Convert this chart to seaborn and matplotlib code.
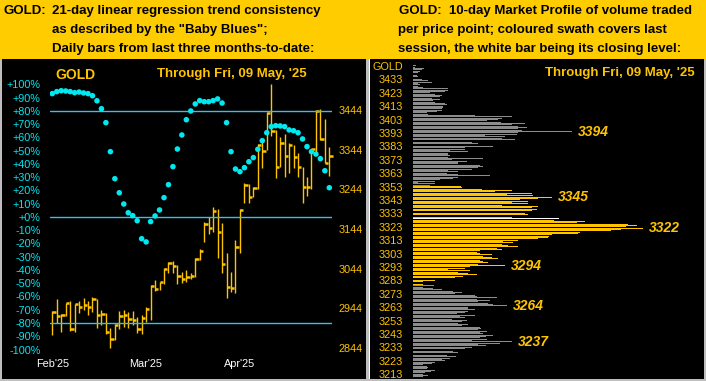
import numpy as np
import matplotlib
matplotlib.use("Agg")
import matplotlib.pyplot as plt
from matplotlib.patches import Rectangle
import seaborn as sns

W, H = 706, 381

HEADER_YELLOW = "#FFCC00"
GOLD = "#FFC400"
CYAN = "#00E8F0"
LINE_BLUE = "#38C0E8"
GREY_BAR = "#8C8C8C"

# ---------------- left chart: daily bars + "Baby Blues" ----------------
highs = [2937.6, 2967.8, 2930.0, 2956.9, 2962.8, 2955.2, 2962.8, 2969.5, 2962.8, 2972.0,
         2967.8, 2940.1, 2933.4, 2895.6, 2904.0, 2937.6, 2940.1, 2935.9, 2937.6, 2923.3,
         2927.5, 2947.0, 3003.0, 3015.6, 3009.7, 3045.0, 3061.8, 3063.5, 3053.4, 3034.9,
         3040.8, 3034.1, 3070.2, 3092.9, 3162.6, 3173.5, 3198.7, 3193.7, 3158.4, 3082.8,
         3036.6, 3116.4, 3193.8, 3260.9, 3257.6, 3250.9, 3358.3, 3368.4, 3439.8, 3509.5,
         3393.6, 3375.1, 3383.5, 3361.7, 3355.8, 3334.8, 3299.6, 3274.3, 3344.9, 3444.0,
         3445.7, 3420.5, 3350.0]
lows = [2877.1, 2906.5, 2885.5, 2925.0, 2888.0, 2885.5, 2933.4, 2940.1, 2927.5, 2935.9,
        2895.6, 2902.3, 2878.8, 2843.5, 2865.4, 2891.4, 2898.1, 2895.6, 2902.3, 2883.0,
        2878.8, 2910.7, 2915.0, 2988.7, 2990.0, 3006.4, 3032.4, 3032.4, 3004.7, 3007.2,
        3011.4, 3017.3, 3024.0, 3066.0, 3112.2, 3131.5, 3135.7, 3071.9, 3032.4, 2969.4,
        2986.2, 2982.0, 3084.5, 3208.8, 3208.8, 3225.6, 3244.2, 3297.0, 3343.2, 3378.5,
        3271.8, 3301.2, 3274.3, 3284.4, 3297.0, 3276.0, 3208.8, 3227.3, 3244.2, 3334.8,
        3368.4, 3311.3, 3278.6]
closes = [2935.9, 2925.0, 2927.5, 2956.9, 2892.2, 2954.4, 2948.5, 2953.5, 2948.5, 2968.7,
          2927.5, 2930.0, 2885.5, 2866.2, 2903.1, 2925.0, 2927.5, 2918.3, 2914.9, 2892.2,
          2920.8, 2942.7, 3000.5, 2993.0, 3009.7, 3042.5, 3057.6, 3051.7, 3026.5, 3017.3,
          3024.0, 3026.5, 3068.5, 3089.5, 3156.7, 3147.5, 3189.5, 3137.4, 3055.1, 2998.8,
          2996.3, 3099.6, 3192.1, 3255.0, 3225.6, 3246.7, 3355.8, 3341.6, 3435.6, 3391.9,
          3299.6, 3361.7, 3328.1, 3355.8, 3326.4, 3299.6, 3249.2, 3249.2, 3344.9, 3442.3,
          3371.0, 3311.3, 3328.1]
baby_blues = [93.1, 94.6, 95.3, 95.1, 94.6, 93.8, 94.3, 93.6, 93.1, 91.5,
              87.7, 81.7, 71.2, 49.3, 28.9, 18.3, 9.8, 3.2, 1.0, -2.8,
              -16.4, -18.8, -3.5, 0.8, 5.3, 14.6, 24.4, 38.0, 51.3, 61.9,
              73.4, 80.0, 85.3, 87.8, 87.0, 87.0, 87.8, 89.1, 86.0, 71.2,
              49.3, 36.2, 34.2, 37.2, 41.7, 44.8, 51.1, 57.6, 63.6, 68.2,
              68.9, 68.7, 68.2, 65.7, 65.1, 63.6, 58.9, 53.1, 49.3, 47.5,
              44.0, 34.9, 22.1]
month_pos = [0, 21, 42]
month_labels = ["Feb'25", "Mar'25", "Apr'25"]
pct_ticks = list(range(-100, 101, 10))
price_ticks = [2844, 2944, 3044, 3144, 3244, 3344, 3444]
ref_levels = [80, 0, -80]

# ---------------- right chart: 10-day market profile ----------------
profile_top = 3443
profile_volume = [
    3, 2, 11, 9, 7, 5, 5, 4, 5, 7,            # 3443-3434
    9, 15, 19, 5, 7, 5, 10, 35, 35, 32,       # 3433-3424
    17, 22, 29, 27, 19, 27, 20, 22, 32, 34,   # 3423-3414
    30, 30, 29, 29, 24, 14, 15, 62, 99, 89,   # 3413-3404
    85, 74, 88, 112, 99, 105, 114, 105, 109, 159,  # 3403-3394
    105, 104, 72, 92, 89, 102, 89, 59, 65, 70,     # 3393-3384
    80, 52, 52, 37, 55, 35, 35, 37, 35, 70,   # 3383-3374
    39, 54, 45, 45, 67, 70, 65, 59, 35, 45,   # 3373-3364
    34, 45, 77, 45, 40, 27, 22, 5, 22, 17,    # 3363-3354
    48, 49, 69, 99, 82, 119, 94, 120, 139, 125,     # 3353-3344
    107, 115, 99, 115, 89, 125, 119, 124, 119, 104,  # 3343-3334
    112, 115, 109, 99, 146, 141, 172, 164, 215, 224,  # 3333-3324
    213, 230, 208, 198, 167, 165, 139, 136, 135, 125,  # 3323-3314
    105, 90, 100, 89, 95, 105, 84, 89, 67, 64,      # 3313-3304
    67, 79, 70, 79, 85, 67, 70, 75, 65, 92,   # 3303-3294
    57, 52, 35, 57, 45, 55, 64, 50, 42, 34,   # 3293-3284
    22, 10, 12, 10, 21, 10, 20, 29, 40, 49,   # 3283-3274
    42, 62, 64, 84, 64, 77, 65, 75, 80, 94,   # 3273-3264
    55, 55, 62, 55, 52, 44, 62, 47, 52, 39,   # 3263-3254
    54, 49, 45, 55, 49, 67, 68, 65, 74, 67,   # 3253-3244
    70, 80, 73, 67, 74, 59, 99, 87, 65, 73,   # 3243-3234
    59, 52, 47, 40, 45, 37, 34, 43, 37, 29,   # 3233-3224
    32, 22, 19, 10, 14, 15, 14, 22, 18, 12,   # 3223-3214
    10, 15, 10, 6,                            # 3213-3210
]
session_low, session_high = 3280, 3353
last_close = 3329
peak_labels = [3394, 3345, 3322, 3294, 3264, 3237]
profile_ticks = [3443] + list(range(3433, 3212, -10))
profile_tick_labels = ["GOLD"] + [str(v) for v in range(3433, 3212, -10)]


def box(x0, y0, x1, y1):
    return [x0 / W, 1 - y1 / H, (x1 - x0) / W, (y1 - y0) / H]


def rect(fig, x0, y0, x1, y1, color):
    fig.add_artist(Rectangle((x0 / W, 1 - y1 / H), (x1 - x0) / W, (y1 - y0) / H,
                             transform=fig.transFigure, color=color, zorder=0, lw=0))


def ftext(fig, x, y, s, **kw):
    fig.text(x / W, 1 - y / H, s, **kw)


sns.set_style("dark")
plt.rcParams["font.family"] = ["Liberation Sans", "DejaVu Sans"]

fig = plt.figure(figsize=(W / 100, H / 100), dpi=100, facecolor="#BEBEBE")

# backgrounds
rect(fig, 0, 0, W, 59, HEADER_YELLOW)
rect(fig, 2, 59, 366, 379, "black")
rect(fig, 369, 59, 704, 379, "black")
rect(fig, 369, 59, 370.5, 379, "white")

# header text
hdr = dict(fontsize=9.5, fontweight="bold", color="black", va="center", ha="left")
ftext(fig, 4, 11, "GOLD:", **hdr)
ftext(fig, 52, 11, "21-day linear regression trend consistency", **hdr)
ftext(fig, 52, 30, 'as described by the "Baby Blues";', **hdr)
ftext(fig, 52, 49, "Daily bars from last three months-to-date:", **hdr)
ftext(fig, 399, 11, "GOLD:  10-day Market Profile of volume traded", **hdr)
ftext(fig, 398, 30, "per price point; coloured swath covers last", **hdr)
ftext(fig, 398, 49, "session, the white bar being its closing level:", **hdr)

ftext(fig, 55, 75, "GOLD", fontsize=10, fontweight="bold", color=GOLD, va="center")
ftext(fig, 157, 74, "Through Fri, 09 May, '25", fontsize=9.5, fontweight="bold",
      color=GOLD, va="center")
ftext(fig, 545, 73, "Through Fri, 09 May, '25", fontsize=9.5, fontweight="bold",
      color=GOLD, va="center")

# ---------------- left chart ----------------
ax = fig.add_axes(box(50, 65, 332, 355))
ax2 = ax.twinx()
idx = np.arange(len(closes))

ax2.vlines(idx, lows, highs, color=GOLD, lw=1.0, clip_on=False)
ax2.hlines(closes, idx, idx + 0.75, color=GOLD, lw=1.8, clip_on=False)
ax2.set_ylim(2826.8, 3557.4)
ax2.set_yticks(price_ticks)
ax2.set_yticklabels([str(p) for p in price_ticks])
ax2.tick_params(axis="y", length=0, pad=4.8, labelcolor=GOLD, labelsize=7.8)

for lvl in ref_levels:
    ax.axhline(lvl, color=LINE_BLUE, lw=1.0, zorder=1)
sns.scatterplot(x=idx, y=baby_blues, ax=ax, color=CYAN, s=16, edgecolor="none",
                marker="o", zorder=3, legend=False)
ax.set_ylim(-104.15, 114.7)
ax.set_xlim(-0.51, 62.6)
ax.set_yticks(pct_ticks)
ax.set_yticklabels([f"{v:+d}%" for v in pct_ticks])
ax.set_xticks(month_pos)
ax.set_xticklabels(month_labels)
ax.tick_params(axis="y", length=0, pad=6.7, labelcolor=CYAN, labelsize=7.8)
ax.tick_params(axis="x", length=0, pad=3.2, labelcolor="white", labelsize=7.8)
ax.set_zorder(ax2.get_zorder() + 1)
for a in (ax, ax2):
    a.patch.set_visible(False)
    a.grid(False)
    for sp in a.spines.values():
        sp.set_visible(False)
    a.set_xlabel("")
    a.set_ylabel("")

# ---------------- right chart ----------------
rp = fig.add_axes(box(413, 61, 703, 378))
prices = profile_top - np.arange(len(profile_volume))
colors = []
for p in prices:
    if p == last_close:
        colors.append("white")
    elif session_low <= p <= session_high:
        colors.append(GOLD)
    else:
        colors.append(GREY_BAR)
rp.barh(prices, profile_volume, height=0.72, color=colors, lw=0)
rp.set_xlim(0, 290)
rp.set_ylim(3210.1, 3446.7)
rp.set_yticks(profile_ticks)
rp.set_yticklabels(profile_tick_labels)
rp.set_xticks([])
rp.tick_params(axis="y", length=0, pad=7.2, labelcolor=GOLD, labelsize=7.8)
rp.patch.set_visible(False)
rp.grid(False)
for sp in rp.spines.values():
    sp.set_visible(False)

vol_at = dict(zip(prices, profile_volume))
for p in peak_labels:
    rp.annotate(str(p), xy=(vol_at[p], p), xytext=(4.2, 0), textcoords="offset points",
                ha="left", va="center", fontsize=10, fontweight="bold",
                fontstyle="italic", color=GOLD, annotation_clip=False)

fig.savefig("out.png", dpi=100, facecolor=fig.get_facecolor())
